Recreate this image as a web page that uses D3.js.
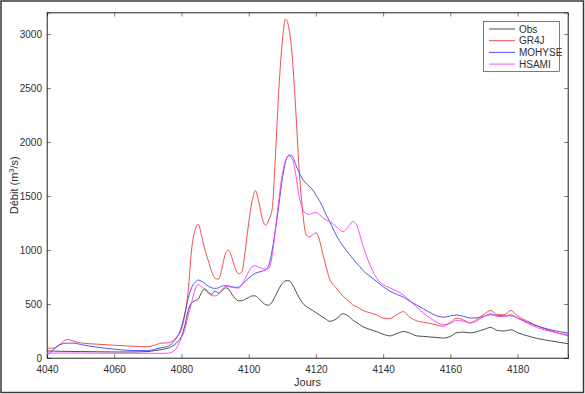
<!DOCTYPE html>
<html>
<head>
<meta charset="utf-8">
<script src="https://cdn.jsdelivr.net/npm/d3@7"></script>
<style>
  body { margin: 0; background: #fff; }
  svg { display: block; font-family: "Liberation Sans", Arial, sans-serif; }
</style>
</head>
<body>
<div id="chart"></div>
<script>
// Days (x values)
let days = [4040, 4042, 4044, 4046, 4048, 4050, 4055, 4060, 4065, 4070, 4072, 4074, 4076, 4078, 4079,
  4080, 4081, 4082, 4083, 4084, 4085, 4086, 4087, 4088, 4089, 4090, 4091, 4092, 4093, 4094, 4095,
  4096, 4097, 4098, 4099, 4100, 4101, 4102, 4103, 4104, 4105, 4106, 4107, 4108, 4109, 4110, 4111,
  4112, 4113, 4114, 4115, 4116, 4117, 4118, 4119, 4120, 4121, 4122, 4123, 4124, 4126, 4128, 4130,
  4131, 4132, 4133, 4134, 4136, 4138, 4140, 4142, 4144, 4146, 4148, 4150, 4152, 4154, 4156, 4158,
  4160, 4162, 4164, 4166, 4168, 4170, 4172, 4174, 4176, 4178, 4180, 4183, 4186, 4190, 4195];

let obs = [65, 64, 62, 61, 60, 60, 58, 56, 56, 60, 68, 78, 92, 125, 155,
  200, 300, 440, 510, 530, 545, 610, 640, 610, 590, 620, 600, 620, 650, 640, 590,
  550, 530, 530, 545, 560, 575, 575, 550, 520, 495, 490, 520, 580, 640, 690, 715,
  715, 680, 620, 560, 510, 480, 460, 440, 420, 400, 380, 360, 340, 360, 410, 380,
  350, 330, 310, 290, 265, 245, 220, 205, 225, 245, 230, 205, 200, 195, 190, 185,
  200, 235, 240, 232, 245, 265, 283, 255, 250, 262, 235, 205, 180, 158, 132];

let gr4j = [90, 92, 130, 172, 155, 140, 128, 118, 110, 105, 118, 138, 140, 175, 210,
  262, 400, 620, 1000, 1180, 1240, 1130, 1000, 900, 800, 740, 730, 820, 960, 1000, 930,
  830, 780, 800, 1000, 1250, 1450, 1550, 1450, 1300, 1230, 1280, 1380, 1900, 2500, 2930, 3140,
  3050, 2780, 2300, 1750, 1380, 1150, 1120, 1140, 1160, 1100, 970, 850, 740, 650, 575, 520,
  490, 478, 460, 440, 420, 400, 370, 365, 400, 430, 375, 345, 330, 320, 305, 293,
  330, 370, 350, 325, 360, 405, 440, 400, 400, 440, 390, 340, 295, 250, 206];

let mohyse = [25, 80, 125, 138, 138, 125, 100, 82, 70, 68, 80, 95, 110, 160, 210,
  290, 410, 550, 650, 700, 722, 710, 690, 665, 650, 645, 650, 665, 670, 668, 660,
  655, 657, 680, 710, 740, 765, 785, 795, 805, 815, 860, 1000, 1200, 1420, 1660, 1820,
  1880, 1870, 1790, 1720, 1660, 1620, 1590, 1560, 1510, 1460, 1400, 1330, 1270, 1140, 1040, 960,
  920, 880, 850, 810, 760, 710, 660, 620, 590, 565, 525, 490, 455, 420, 390, 378,
  390, 398, 385, 370, 372, 385, 400, 395, 390, 392, 370, 330, 295, 260, 231];

let hsami = [46, 46, 46, 46, 46, 46, 45, 44, 44, 43, 43, 43, 45, 70, 120,
  190, 262, 390, 510, 630, 680, 660, 630, 600, 580, 575, 590, 630, 660, 660, 655,
  650, 648, 680, 740, 800, 845, 855, 840, 830, 825, 830, 950, 1200, 1470, 1700, 1830,
  1870, 1840, 1700, 1500, 1380, 1340, 1330, 1340, 1348, 1330, 1300, 1280, 1265, 1220, 1170, 1230,
  1265, 1240, 1150, 1040, 870, 745, 680, 650, 620, 585, 530, 470, 415, 370, 330, 310,
  320, 350, 340, 325, 345, 385, 410, 385, 385, 400, 370, 320, 280, 245, 216];

let seriesNames = ["Obs", "GR4J", "MOHYSE", "HSAMI"];
let seriesValues = [obs, gr4j, mohyse, hsami];
let seriesColors = ["#3a3a3a", "#f53a3a", "#4040f5", "#f53cf5"];

let xTicks = [4040, 4060, 4080, 4100, 4120, 4140, 4160, 4180];
let yTicks = [0, 500, 1000, 1500, 2000, 2500, 3000];

let width = 585;
let height = 394;
let margin = ({top: 12.5, right: 17, bottom: 36, left: 47});
let textColor = "#2e2e2e";

let svg = d3.select("#chart")
  .append("svg")
  .attr("width", width)
  .attr("height", height);

// outer frame of the figure
svg.append("rect")
  .attr("x", 1).attr("y", 1)
  .attr("width", width - 2.5).attr("height", height - 2.5)
  .attr("fill", "#fff")
  .attr("stroke", "#3a3a3a")
  .attr("stroke-width", 1.5);

let xScale = d3.scaleLinear()
  .domain([4040, 4195])
  .range([margin.left, width - margin.right]);

let yScale = d3.scaleLinear()
  .domain([0, 3200])
  .range([height - margin.bottom, margin.top]);

// plot box
svg.append("rect")
  .attr("x", xScale(4040)).attr("y", yScale(3200))
  .attr("width", xScale(4195) - xScale(4040))
  .attr("height", yScale(0) - yScale(3200))
  .attr("fill", "#fff")
  .attr("stroke", "#262626")
  .attr("stroke-width", 0.6);

// axes, ticks pointing inward (matlab style)
let xAxis = d3.axisBottom(xScale).tickValues(xTicks).tickSize(-4).tickPadding(8).tickFormat(d3.format("d"));
let xAxisTop = d3.axisTop(xScale).tickValues(xTicks).tickSize(-4).tickFormat("");
let yAxis = d3.axisLeft(yScale).tickValues(yTicks).tickSize(-4).tickPadding(5).tickFormat(d3.format("d"));
let yAxisRight = d3.axisRight(yScale).tickValues(yTicks).tickSize(-4).tickFormat("");

svg.append("g").attr("transform", "translate(0," + yScale(0) + ")").call(xAxis);
svg.append("g").attr("transform", "translate(0," + yScale(3200) + ")").call(xAxisTop);
svg.append("g").attr("transform", "translate(" + xScale(4040) + ",0)").call(yAxis);
svg.append("g").attr("transform", "translate(" + xScale(4195) + ",0)").call(yAxisRight);

svg.selectAll(".domain").attr("stroke", "#262626").attr("stroke-width", 0.6);
svg.selectAll(".tick line").attr("stroke", "#262626").attr("stroke-width", 0.6);
svg.selectAll(".tick text")
  .attr("fill", textColor)
  .style("font-size", "10px")
  .style("font-family", "Liberation Sans, Arial, sans-serif");

// series lines
let line = d3.line()
  .x(function(d) { return xScale(d[0]); })
  .y(function(d) { return yScale(d[1]); })
  .curve(d3.curveMonotoneX);

seriesValues.forEach(function(vals, i) {
  let pts = days.map(function(day, j) { return [day, vals[j]]; });
  svg.append("path")
    .datum(pts)
    .attr("fill", "none")
    .attr("stroke", seriesColors[i])
    .attr("stroke-width", 0.9)
    .attr("d", line);
});

// axis labels
svg.append("text")
  .attr("x", (xScale(4040) + xScale(4195)) / 2)
  .attr("y", 385.5)
  .attr("text-anchor", "middle")
  .attr("fill", textColor)
  .style("font-size", "11px")
  .text("Jours");

let ylab = svg.append("text")
  .attr("transform", "translate(18," + ((yScale(0) + yScale(3200)) / 2) + ") rotate(-90)")
  .attr("text-anchor", "middle")
  .attr("fill", textColor)
  .style("font-size", "11px");
ylab.append("tspan").text("Débit (m");
ylab.append("tspan").attr("dy", -4).style("font-size", "7.5px").text("3");
ylab.append("tspan").attr("dy", 4).text("/s)");

// legend
let legend = svg.append("g");
legend.append("rect")
  .attr("x", 483.5).attr("y", 21.5)
  .attr("width", 76).attr("height", 50)
  .attr("fill", "#fff")
  .attr("stroke", "#262626")
  .attr("stroke-width", 0.6);

legend.selectAll(".key")
  .data(seriesNames)
  .enter()
  .append("line")
  .attr("x1", 489).attr("x2", 515)
  .attr("y1", function(d, i) { return 29 + i * 11.7; })
  .attr("y2", function(d, i) { return 29 + i * 11.7; })
  .attr("stroke", function(d, i) { return seriesColors[i]; })
  .attr("stroke-width", 0.9);

legend.selectAll(".key_labels")
  .data(seriesNames)
  .enter()
  .append("text")
  .attr("x", 519)
  .attr("y", function(d, i) { return 32.5 + i * 11.7; })
  .attr("fill", textColor)
  .style("font-size", "10px")
  .text(function(d) { return d; });
</script>
</body>
</html>
